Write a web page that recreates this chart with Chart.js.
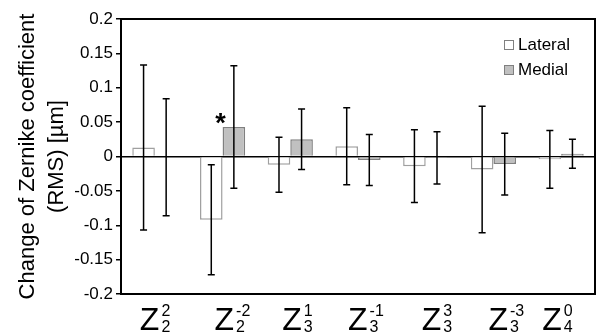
<!DOCTYPE html>
<html>
<head>
<meta charset="utf-8">
<script src="https://cdn.jsdelivr.net/npm/chart.js@4.4.1/dist/chart.umd.min.js"></script>
<style>
  html, body { margin: 0; padding: 0; background: #fff; }
</style>
</head>
<body>
<canvas id="chart" width="602" height="334"></canvas>
<script>
'use strict';

// Zernike terms Z_n^m (radial order n, angular frequency m)
const orders = [2, 2, 3, 3, 3, 3, 4];
const freqs = [2, -2, 1, -1, 3, -3, 0];
const categories = orders.map((n, i) => `Z_${n}^${freqs[i]}`);

// mean change and SD, micrometres
const lateralMean = [0.013, -0.092, -0.012, 0.015, -0.014, -0.019, -0.004];
const lateralSd   = [0.120, 0.080, 0.040, 0.056, 0.053, 0.092, 0.042];
const medialMean  = [-0.001, 0.043, 0.025, -0.005, -0.002, -0.011, 0.004];
const medialSd    = [0.085, 0.089, 0.044, 0.037, 0.038, 0.045, 0.021];
const medialSignificant = [false, true, false, false, false, false, false];

const yMin = -0.2;
const yMax = 0.2;
const yStep = 0.05;

const FONT = 'Liberation Sans, Arial, sans-serif';
Chart.defaults.font.family = FONT;
Chart.defaults.color = '#000';

// small hand nudges of the x labels, as in the original figure
const labelNudge = [-15, -8, -8, -10, -4, -5, -19];

const errorBars = {
  id: 'errorBars',
  afterDatasetsDraw(chart) {
    const { ctx } = chart;
    const y = chart.scales.y;
    const sds = [lateralSd, medialSd];
    ctx.save();
    ctx.strokeStyle = '#000';
    ctx.lineWidth = 1.5;
    chart.data.datasets.forEach((ds, di) => {
      chart.getDatasetMeta(di).data.forEach((bar, i) => {
        const hi = y.getPixelForValue(ds.data[i] + sds[di][i]);
        const lo = y.getPixelForValue(ds.data[i] - sds[di][i]);
        const x = bar.x;
        ctx.beginPath();
        ctx.moveTo(x, hi); ctx.lineTo(x, lo);
        ctx.moveTo(x - 3.5, hi); ctx.lineTo(x + 3.5, hi);
        ctx.moveTo(x - 3.5, lo); ctx.lineTo(x + 3.5, lo);
        ctx.stroke();
      });
    });
    // significance marks
    const medialMeta = chart.getDatasetMeta(1);
    ctx.fillStyle = '#000';
    ctx.font = `bold 27px ${FONT}`;
    ctx.textAlign = 'center';
    ctx.textBaseline = 'alphabetic';
    medialSignificant.forEach((sig, i) => {
      if (!sig) return;
      const bar = medialMeta.data[i];
      ctx.fillText('*', bar.x - bar.width / 2 - 2, bar.y + 5);
    });
    ctx.restore();
  }
};

const frameLabelsLegend = {
  id: 'frameLabelsLegend',
  afterDraw(chart) {
    const { ctx, chartArea: a } = chart;
    const xs = chart.scales.x;
    ctx.save();
    // plot frame
    ctx.strokeStyle = '#000';
    ctx.lineWidth = 2;
    ctx.strokeRect(a.left, a.top, a.width, a.height);

    // x labels: Z with sub/superscript
    ctx.fillStyle = '#000';
    ctx.textAlign = 'left';
    ctx.textBaseline = 'alphabetic';
    categories.forEach((c, i) => {
      const cx = xs.getPixelForTick(i) + labelNudge[i];
      ctx.font = `32px ${FONT}`;
      ctx.fillText('Z', cx, a.bottom + 36);
      const zw = ctx.measureText('Z').width;
      ctx.font = `16px ${FONT}`;
      ctx.fillText(String(freqs[i]), cx + zw + 2, a.bottom + 22);
      ctx.fillText(String(orders[i]), cx + zw + 2, a.bottom + 38);
    });

    // legend
    const lx = a.right - 91;
    const ly = a.top + 21;
    ctx.font = `17px ${FONT}`;
    ctx.textBaseline = 'middle';
    ctx.lineWidth = 1;
    chart.data.datasets.forEach((ds, di) => {
      const yy = ly + di * 25;
      ctx.fillStyle = ds.backgroundColor;
      ctx.fillRect(lx + 0.5, yy + 0.5, 9, 9);
      ctx.strokeStyle = '#808080';
      ctx.strokeRect(lx + 0.5, yy + 0.5, 9, 9);
      ctx.fillStyle = '#000';
      ctx.fillText(ds.label, lx + 14, yy + 5.5);
    });
    ctx.restore();
  }
};

new Chart(document.getElementById('chart'), {
  type: 'bar',
  data: {
    labels: categories,
    datasets: [
      {
        label: 'Lateral',
        data: lateralMean,
        backgroundColor: '#ffffff',
        borderColor: '#a0a0a0',
        borderWidth: 1.5,
        categoryPercentage: 0.667,
        barPercentage: 1
      },
      {
        label: 'Medial',
        data: medialMean,
        backgroundColor: '#c0c0c0',
        borderColor: '#808080',
        borderWidth: 1.5,
        categoryPercentage: 0.667,
        barPercentage: 1
      }
    ]
  },
  options: {
    responsive: false,
    animation: false,
    devicePixelRatio: 1,
    layout: { padding: { left: 0, top: 19, right: 7, bottom: 0 } },
    plugins: { legend: { display: false }, tooltip: { enabled: false } },
    scales: {
      x: {
        grid: { display: false },
        border: { display: false },
        ticks: { display: false },
        afterFit: (s) => { s.height = 40; }
      },
      y: {
        min: yMin,
        max: yMax,
        border: { display: false },
        grid: {
          drawTicks: true,
          tickLength: 5,
          tickColor: '#000',
          tickWidth: 1.5,
          color: (c) => (c.tick && Math.abs(c.tick.value) < 1e-9 ? '#000' : 'rgba(0,0,0,0)'),
          lineWidth: 1.5
        },
        ticks: {
          stepSize: yStep,
          padding: 3,
          font: { size: 17 },
          color: '#000',
          callback: (v) => String(parseFloat(Number(v).toFixed(2)))
        },
        title: {
          display: true,
          text: ['Change of Zernike coefficient', '(RMS) [µm]'],
          font: { size: 22, lineHeight: 1.3 },
          color: '#000',
          padding: { top: 14, bottom: 0 }
        },
        afterFit: (s) => { s.width = 121; }
      }
    }
  },
  plugins: [errorBars, frameLabelsLegend]
});
</script>
</body>
</html>
